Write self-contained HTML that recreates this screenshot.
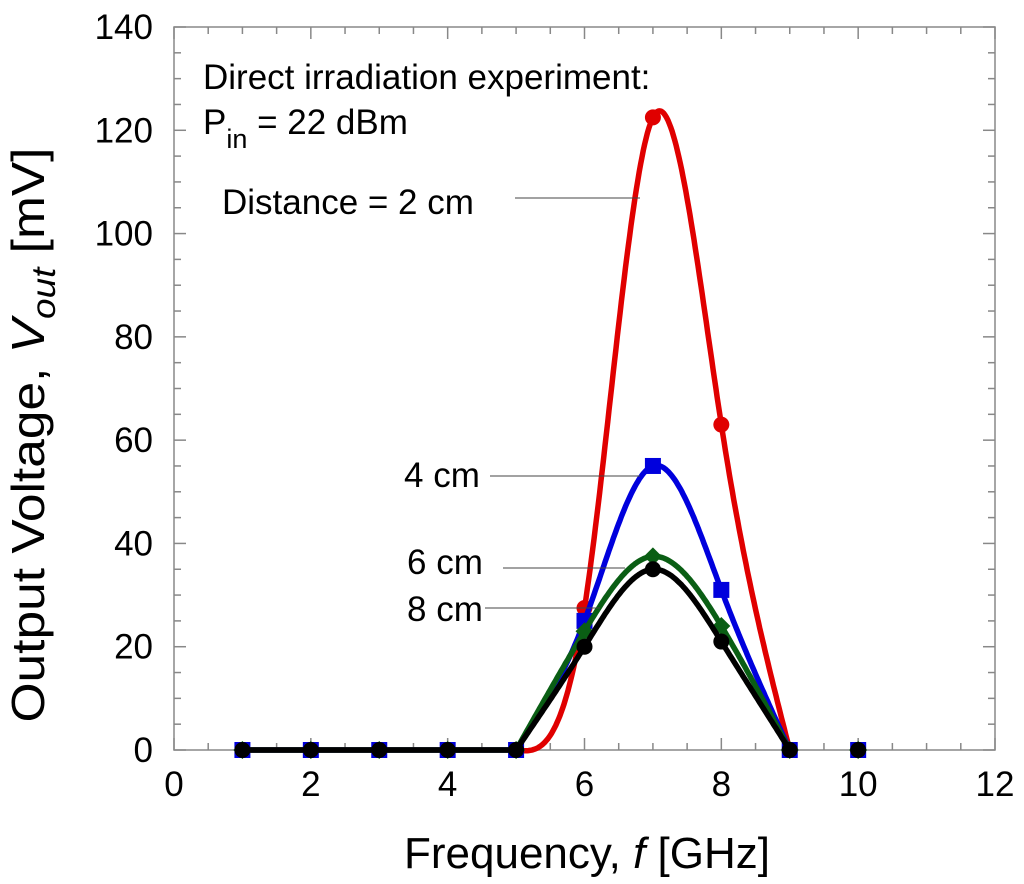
<!DOCTYPE html>
<html><head><meta charset="utf-8"><style>
body{margin:0;background:#fff}
svg{display:block;font-family:"Liberation Sans",sans-serif}
</style></head><body>
<svg id="chart" width="1024" height="884" viewBox="0 0 1024 884" xmlns="http://www.w3.org/2000/svg">
<g id="grid"></g>
<g id="series"></g>
<g id="ann"></g>
</svg>
<script>
const freqs=[1,2,3,4,5,6,7,8,9,10];
const red2cm=[0,0,0,0,0,27.5,122.5,63,0,0];
const blue4cm=[0,0,0,0,0,25,55,31,0,0];
const green6cm=[0,0,0,0,0,23,37.5,24,0,0];
const black8cm=[0,0,0,0,0,20,35,21,0,0];
const xTicks=[0,2,4,6,8,10,12];
const yTicks=[0,20,40,60,80,100,120,140];
const NS="http://www.w3.org/2000/svg";
const X0=174,X1=995,Y0=750,Y1=27;
const sx=v=>X0+(v-0)/12*(X1-X0);
const sy=v=>Y0-(v/140)*(Y0-Y1);
const svg=document.getElementById('chart');
const G=document.getElementById('grid'),S=document.getElementById('series'),A=document.getElementById('ann');
function mk(t,at,p){const e=document.createElementNS(NS,t);for(const k in at)e.setAttribute(k,at[k]);(p||svg).appendChild(e);return e;}
let fr=mk('rect',{x:X0,y:Y1,width:X1-X0,height:Y0-Y1,fill:'none',stroke:'#888','stroke-width':1.5},G);


for(let v=0;v<=12;v+=0.5){const x=sx(v),L=(v%2===0)?12:7;
 mk('line',{x1:x,x2:x,y1:Y0,y2:Y0-L,stroke:'#888','stroke-width':1.5},G);
 mk('line',{x1:x,x2:x,y1:Y1,y2:Y1+L,stroke:'#888','stroke-width':1.5},G);}
for(let v=0;v<=140;v+=5){const y=sy(v),L=(v%20===0)?12:7;
 mk('line',{x1:X0,x2:X0+L,y1:y,y2:y,stroke:'#888','stroke-width':1.5},G);
 mk('line',{x1:X1,x2:X1-L,y1:y,y2:y,stroke:'#888','stroke-width':1.5},G);}
xTicks.forEach(v=>{const t=mk('text',{x:sx(v),y:796,'font-size':35,'text-anchor':'middle'},G);t.textContent=v;
 
 });
yTicks.forEach(v=>{const t=mk('text',{x:153,y:sy(v)+12,'font-size':35,'text-anchor':'end'},G);t.textContent=v;
 
 });
let xt=mk('text',{x:587,y:868,'font-size':44,'text-anchor':'middle'},G);
xt.innerHTML='Frequency, <tspan font-style="italic">f</tspan> [GHz]';


let yt=mk('text',{x:0,y:0,'font-size':46,'text-anchor':'middle',textLength:575,lengthAdjust:'spacingAndGlyphs',transform:'translate(44,435) rotate(-90)'},G);
yt.innerHTML='Output Voltage, <tspan font-style="italic">V</tspan><tspan font-style="italic" font-size="33" dy="11">out</tspan><tspan dy="-11"> [mV]</tspan>';


function spline(xs,ys){const n=xs.length,h=[],al=[],l=[1],mu=[0],z=[0],c=new Array(n).fill(0),b=[],d=[];
 for(let i=0;i<n-1;i++)h[i]=xs[i+1]-xs[i];
 for(let i=1;i<n-1;i++)al[i]=3/h[i]*(ys[i+1]-ys[i])-3/h[i-1]*(ys[i]-ys[i-1]);
 for(let i=1;i<n-1;i++){l[i]=2*(xs[i+1]-xs[i-1])-h[i-1]*mu[i-1];mu[i]=h[i]/l[i];z[i]=(al[i]-h[i-1]*z[i-1])/l[i];}
 l[n-1]=1;z[n-1]=0;
 for(let j=n-2;j>=0;j--){c[j]=z[j]-mu[j]*c[j+1];b[j]=(ys[j+1]-ys[j])/h[j]-h[j]*(c[j+1]+2*c[j])/3;d[j]=(c[j+1]-c[j])/(3*h[j]);}
 return x=>{let i=0;while(i<n-2&&x>xs[i+1])i++;const dx=x-xs[i];return ys[i]+b[i]*dx+c[i]*dx*dx+d[i]*dx*dx*dx;};}
function draw(vals,color,marker,name){
 const f=spline(freqs.slice(4,9),vals.slice(4,9));let d='M'+sx(1)+','+sy(vals[0]);
 for(let i=1;i<4;i++)d+='L'+sx(freqs[i])+','+sy(vals[i]);
 for(let x=5;x<=9+1e-9;x+=0.02){d+='L'+sx(x).toFixed(1)+','+sy(f(x)).toFixed(1);}
 const p=mk('path',{d:d,fill:'none',stroke:color,'stroke-width':5.5,'stroke-linejoin':'round'},S);
 
 
 freqs.forEach((fq,i)=>{const x=sx(fq),y=sy(vals[i]);let m;
  if(marker==='sq')m=mk('rect',{x:x-8,y:y-8,width:16,height:16,fill:color},S);
  else if(marker==='di')m=mk('polygon',{points:`${x},${y-9} ${x+9},${y} ${x},${y+9} ${x-9},${y}`,fill:color},S);
  else m=mk('circle',{cx:x,cy:y,r:8,fill:color},S);
  
  });}
draw(red2cm,'#e00000','c','series-2cm');
draw(blue4cm,'#0000dd','sq','series-4cm');
draw(green6cm,'#0a5e14','di','series-6cm');
draw(black8cm,'#000','c','series-8cm');
function txt(x,y,s,fs,name){const t=mk('text',{x:x,y:y,'font-size':fs},A);t.innerHTML=s;
 
 }
txt(203,89,'Direct irradiation experiment:',35,'annotation-title');
txt(203,134,'P<tspan font-size="27" dy="14">in</tspan><tspan dy="-14"> = 22 dBm</tspan>',35,'annotation-power');
txt(222,214,'Distance = 2 cm',35,'label-2cm');
txt(404,487,'4 cm',35,'label-4cm');
txt(407,574,'6 cm',35,'label-6cm');
txt(407,621,'8 cm',35,'label-8cm');
[[515,198,640,198],[490,476,640,476],[503,568,625,568],[485,608,600,608]].forEach(a=>{
 const l=mk('line',{x1:a[0],y1:a[1],x2:a[2],y2:a[3],stroke:'#444','stroke-width':1},A);
 
 });
</script>
</body></html>
